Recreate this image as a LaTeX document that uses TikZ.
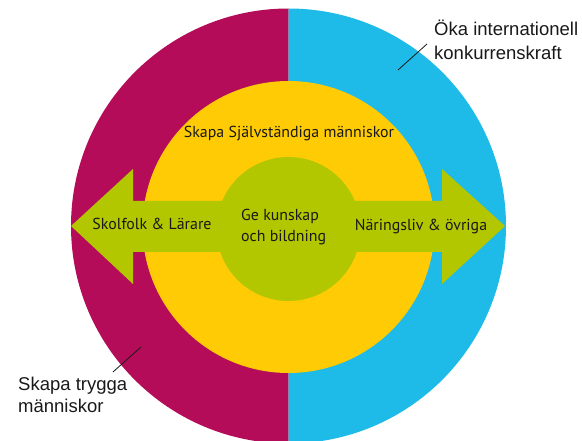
\documentclass[tikz,border=0pt]{standalone}
\usepackage{fontspec}
\setmainfont{Liberation Sans}
\newfontfamily\innerfont{PT Sans}
\definecolor{cmag}{RGB}{180,12,88}
\definecolor{cblue}{RGB}{31,187,232}
\definecolor{cyel}{RGB}{255,203,5}
\definecolor{cgreen}{RGB}{178,199,0}
\definecolor{ctext}{RGB}{25,25,25}
\tikzset{
  intext/.style={font=\innerfont\fontsize{15.9}{18}\selectfont, text=ctext, inner sep=0pt},
  outtext/.style={font=\fontsize{18.5}{22}\selectfont, text=ctext, inner sep=0pt, anchor=base west},
  leader/.style={draw=ctext, line width=0.8pt}
}
\begin{document}
\begin{tikzpicture}[x=1pt,y=-1pt]
\useasboundingbox (0,0) rectangle (582,441);
\begin{scope}
  \clip (0,0) rectangle (288.5,441);
  \fill[cmag] (288.5,226) circle (217.5pt);
\end{scope}
\begin{scope}
  \clip (288.5,0) rectangle (582,441);
  \fill[cblue] (288.5,226) circle (217.5pt);
\end{scope}
\fill[cyel] (288.5,227) circle (146pt);
\fill[cgreen] (71,226) -- (133,169) -- (133,201) -- (442,201) -- (442,169) -- (505,226)
  -- (442,284) -- (442,252) -- (133,252) -- (133,284) -- cycle;
\fill[cgreen] (288.5,229) circle (72pt);

\node[intext, anchor=base] (sj) at (289,138) {Skapa Självständiga människor};
\node[intext, anchor=base] (sk) at (152,230) {Skolfolk \& Lärare};
\node[intext, anchor=base] (na) at (421,231) {Näringsliv \& övriga};
\node[intext, anchor=base west] (ge1) at (241,221) {Ge kunskap};
\node[intext, anchor=base west] (ge2) at (241,242) {och bildning};

\node[outtext] (ok1) at (434,36) {Öka internationell};
\node[outtext] (ok2) at (434,60) {konkurrenskraft};
\node[outtext] (st1) at (18,391) {Skapa trygga};
\node[outtext] (st2) at (18,413) {människor};

\coordinate (la) at (398,70);
\coordinate (lb) at (427,44);
\coordinate (lc) at (113,372);
\coordinate (ld) at (141,347);
\draw[leader] (la) -- (lb);
\draw[leader] (lc) -- (ld);
\end{tikzpicture}
\end{document}
